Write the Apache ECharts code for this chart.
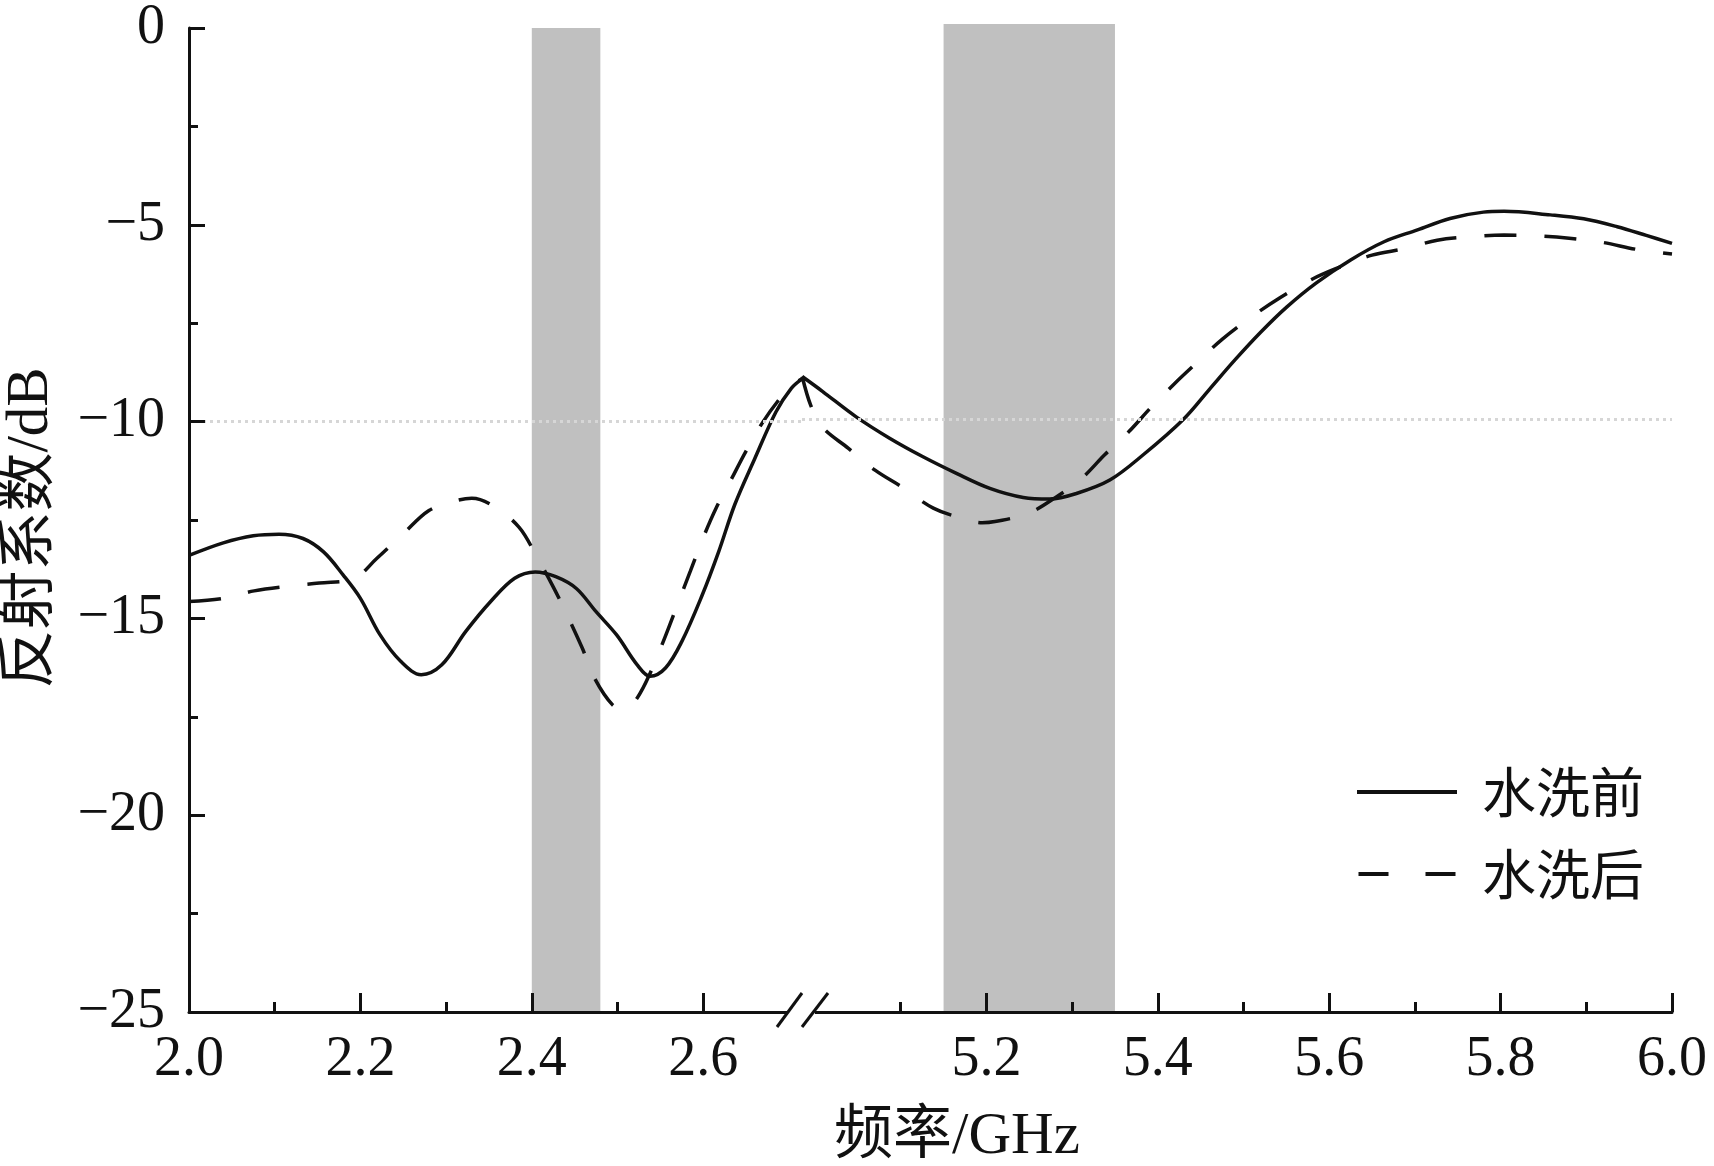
<!DOCTYPE html>
<html><head><meta charset="utf-8">
<script src="https://cdn.jsdelivr.net/npm/echarts@6/dist/echarts.min.js"></script>
<style>html,body{margin:0;padding:0;background:#fff}#c{width:1714px;height:1166px}</style>
</head><body><div id="c"></div>
<script>
// ---------------- data ----------------
const seriesNames = ['水洗前', '水洗后'];
const xTitle = '频率/GHz';
const yTitle = '反射系数/dB';

// 2.4 GHz band section (left of axis break)
const beforeLow = [[2.000,-13.40],[2.040,-13.08],[2.075,-12.90],[2.105,-12.86],[2.133,-12.97],[2.157,-13.31],[2.180,-13.90],[2.200,-14.49],[2.223,-15.42],[2.247,-16.09],[2.271,-16.43],[2.295,-16.18],[2.323,-15.33],[2.352,-14.57],[2.380,-13.98],[2.404,-13.82],[2.428,-13.94],[2.452,-14.24],[2.475,-14.83],[2.499,-15.42],[2.523,-16.18],[2.538,-16.47],[2.556,-16.26],[2.575,-15.59],[2.599,-14.40],[2.618,-13.31],[2.637,-12.10],[2.660,-10.95],[2.685,-9.75],[2.703,-9.15],[2.715,-8.92]];
const afterLow = [[2.000,-14.57],[2.038,-14.50],[2.076,-14.30],[2.116,-14.18],[2.152,-14.10],[2.193,-13.98],[2.219,-13.48],[2.250,-12.85],[2.280,-12.26],[2.310,-12.02],[2.330,-11.95],[2.354,-12.13],[2.385,-12.68],[2.406,-13.44],[2.425,-14.20],[2.442,-14.95],[2.459,-15.76],[2.473,-16.51],[2.494,-17.19],[2.508,-17.30],[2.523,-17.02],[2.540,-16.30],[2.555,-15.50],[2.570,-14.65],[2.585,-13.80],[2.600,-12.95],[2.615,-12.20],[2.632,-11.50],[2.650,-10.75],[2.670,-10.00],[2.690,-9.40],[2.705,-9.05],[2.715,-8.92]];

// 5 GHz band section (right of axis break)
const beforeHigh = [[4.985,-8.92],[5.009,-9.30],[5.048,-9.94],[5.087,-10.48],[5.126,-10.95],[5.165,-11.37],[5.204,-11.75],[5.243,-11.98],[5.274,-12.02],[5.305,-11.88],[5.344,-11.54],[5.383,-10.90],[5.430,-10.00],[5.460,-9.25],[5.490,-8.50],[5.520,-7.80],[5.550,-7.17],[5.585,-6.55],[5.625,-5.97],[5.664,-5.51],[5.703,-5.21],[5.741,-4.92],[5.780,-4.76],[5.804,-4.74],[5.858,-4.83],[5.897,-4.93],[5.936,-5.13],[5.970,-5.35],[6.000,-5.55]];
const afterHigh = [[4.985,-8.92],[4.995,-9.65],[5.008,-10.19],[5.039,-10.74],[5.070,-11.29],[5.101,-11.71],[5.138,-12.25],[5.175,-12.53],[5.195,-12.62],[5.210,-12.59],[5.249,-12.38],[5.282,-11.96],[5.311,-11.50],[5.338,-10.90],[5.366,-10.32],[5.393,-9.68],[5.420,-9.09],[5.449,-8.50],[5.475,-7.98],[5.510,-7.40],[5.543,-6.92],[5.578,-6.48],[5.609,-6.18],[5.650,-5.85],[5.689,-5.68],[5.726,-5.47],[5.767,-5.38],[5.804,-5.34],[5.843,-5.36],[5.880,-5.42],[5.920,-5.53],[5.958,-5.70],[6.000,-5.82]];

const lowMajorTicks = [2.0, 2.2, 2.4, 2.6];
const lowMinorTicks = [2.1, 2.3, 2.5];
const highMajorTicks = [5.2, 5.4, 5.6, 5.8, 6.0];
const highMinorTicks = [5.1, 5.3, 5.5, 5.7, 5.9];
const bands = [[2.40, 2.48], [5.15, 5.35]];
const refLevel = -10;
const yMin = -25, yMax = 0, yStep = 5;
const lowRange = [2.0, 2.7153];
const highRange = [4.9848, 6.0];

// ---------------- styles ----------------
const INK = '#111';
const NUM_FONT = "'Liberation Serif', 'Noto Sans CJK SC', serif";
const CJK_FONT = "'Liberation Serif', 'Noto Sans CJK SC', sans-serif";
const LINE_W = 3.5;

const chart = echarts.init(document.getElementById('c'), null, {renderer: 'canvas'});

function majorX(grid, range, ticks) {
  return {
    type: 'value', gridIndex: grid, position: 'bottom', min: range[0], max: range[1], z: 10,
    axisLine: {show: true, onZero: false, lineStyle: {color: INK, width: 3}},
    axisTick: {show: true, inside: true, length: 19, customValues: ticks, lineStyle: {color: INK, width: 3}},
    axisLabel: {show: true, customValues: ticks, margin: 20, color: INK, fontSize: 56, fontFamily: NUM_FONT,
      formatter: v => Number(v).toFixed(1)},
    splitLine: {show: false}
  };
}
function minorX(grid, range, ticks) {
  return {
    type: 'value', gridIndex: grid, position: 'bottom', min: range[0], max: range[1], z: 10,
    axisLine: {show: false, onZero: false},
    axisTick: {show: true, inside: true, length: 10, customValues: ticks, lineStyle: {color: INK, width: 3}},
    axisLabel: {show: false, customValues: ticks},
    splitLine: {show: false}
  };
}
function lineSeries(name, xi, data, dashed) {
  return {
    name: name, type: 'line', xAxisIndex: xi, yAxisIndex: xi === 0 ? 0 : 1,
    data: data, symbol: 'none', smooth: 0.35, z: 3, silent: true,
    lineStyle: {color: INK, width: LINE_W, type: dashed ? [32, 28] : 'solid'},
    itemStyle: {color: INK}
  };
}
function bandSeries(xi, band) {
  return {
    type: 'line', xAxisIndex: xi, yAxisIndex: xi === 0 ? 0 : 1, data: [], silent: true, z: 1,
    markArea: {silent: true, itemStyle: {color: '#c0c0c0'},
      data: [[{xAxis: band[0], yAxis: yMax}, {xAxis: band[1], yAxis: yMin}]]},
    markLine: {silent: true, symbol: ['none', 'none'], label: {show: false},
      lineStyle: {color: '#d6d6d6', width: 3, type: [3, 4]}, data: [{yAxis: refLevel}]}
  };
}

const option = {
  backgroundColor: '#fff',
  animation: false,
  grid: [
    {left: 189, top: 24, width: 613, height: 988},
    {left: 802, top: 24, width: 870, height: 988}
  ],
  xAxis: [
    majorX(0, lowRange, lowMajorTicks),
    minorX(0, lowRange, lowMinorTicks),
    majorX(1, highRange, highMajorTicks),
    minorX(1, highRange, highMinorTicks)
  ],
  yAxis: [
    {
      type: 'value', gridIndex: 0, min: yMin, max: yMax, interval: yStep, z: 10,
      axisLine: {show: true, onZero: false, lineStyle: {color: INK, width: 3}},
      axisTick: {show: true, inside: true, length: 16, lineStyle: {color: INK, width: 3}},
      minorTick: {show: true, splitNumber: 2, length: 9, lineStyle: {color: INK, width: 3}},
      axisLabel: {margin: 24, color: INK, fontSize: 56, fontFamily: NUM_FONT,
        formatter: v => v === 0 ? '0' : '\u2212' + Math.abs(v)},
      splitLine: {show: false}, minorSplitLine: {show: false}
    },
    {type: 'value', gridIndex: 1, min: yMin, max: yMax, interval: yStep, show: false, splitLine: {show: false}}
  ],
  legend: {
    data: [
      {name: seriesNames[0], icon: 'path://M0,0h100v4h-100z'},
      {name: seriesNames[1], icon: 'path://M3,0h30v4h-30zM70,0h30v4h-30z'}
    ],
    orient: 'vertical', left: 1352, top: 760,
    itemWidth: 100, itemHeight: 4, itemGap: 28,
    itemStyle: {color: INK, borderWidth: 0},
    textStyle: {fontSize: 54, fontFamily: "'Noto Sans CJK SC'", color: INK, padding: [0, 0, 0, 20]}
  },
  series: [
    bandSeries(0, bands[0]),
    bandSeries(2, bands[1]),
    lineSeries(seriesNames[0], 0, beforeLow, false),
    lineSeries(seriesNames[1], 0, afterLow, true),
    lineSeries(seriesNames[0], 2, beforeHigh, false),
    lineSeries(seriesNames[1], 2, afterHigh, true)
  ],
  graphic: [
    {type: 'rect', z: 100, shape: {x: 787, y: 1006, width: 28, height: 12}, style: {fill: '#fff'}},
    {type: 'line', z: 101, shape: {x1: 777, y1: 1027, x2: 802, y2: 993}, style: {stroke: INK, lineWidth: 3}},
    {type: 'line', z: 101, shape: {x1: 802, y1: 1027, x2: 828, y2: 993}, style: {stroke: INK, lineWidth: 3}},
    {type: 'text', z: 101, x: 957, y: 1137,
      style: {text: xTitle, align: 'center', verticalAlign: 'middle', fontSize: 59, fontFamily: CJK_FONT, fill: INK}},
    {type: 'text', z: 101, x: 31, y: 528, rotation: Math.PI / 2,
      style: {text: yTitle, align: 'center', verticalAlign: 'middle', fontSize: 59, fontFamily: CJK_FONT, fill: INK}}
  ]
};
chart.setOption(option);
</script>
</body></html>
